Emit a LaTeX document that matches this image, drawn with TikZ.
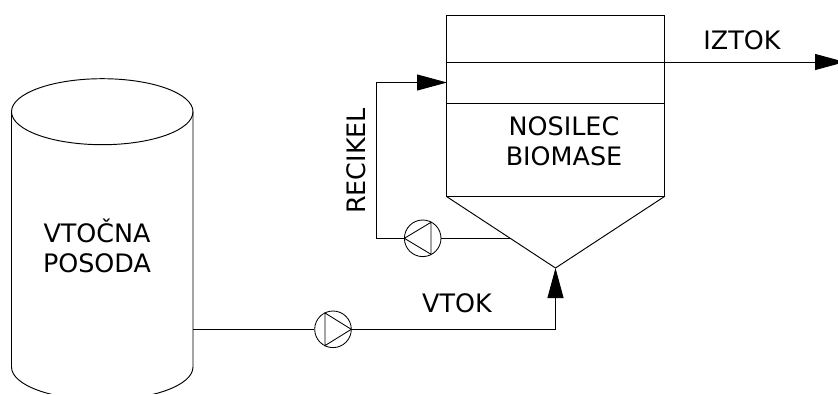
\documentclass[tikz,border=0pt]{standalone}
\usepackage{fontspec}
\setmainfont{DejaVu Sans}
\usetikzlibrary{arrows.meta}
\begin{document}
\begin{tikzpicture}[x=1pt,y=-1pt,
  pipe/.style={line width=0.95pt,line join=miter},
  vessel/.style={line width=0.95pt,line join=miter},
  flow/.style={pipe,-{Triangle[length=30pt,width=16pt,sep=0pt]}},
  pumpc/.style={circle,draw,line width=0.85pt,minimum size=36.6pt,inner sep=0pt,fill=white},
  lbl/.style={font=\fontsize{25.4pt}{30pt}\selectfont,align=center,inner sep=0pt}]
\useasboundingbox (0,0) rectangle (838,394);
\fill[white] (0,0) rectangle (838,394);
% feed tank
\begin{scope}
\clip (0,0) rectangle (838,393);
\draw[vessel] (11.5,111.7) -- (11.5,367) arc[start angle=180,end angle=0,x radius=90.75pt,y radius=-33pt] -- (193,111.7);
\end{scope}
\draw[vessel] (102.25,111.7) ellipse[x radius=90.75pt,y radius=33pt];
% reactor
\draw[vessel] (446.5,15) rectangle (664.5,196.5);
\draw[vessel] (446.5,103) -- (664.5,103);
\draw[vessel] (446.5,196.5) -- (555.5,268) -- (664.5,196.5);
% named points
\coordinate (tankout) at (193,329.3);
\coordinate (apex) at (555.5,268);
\coordinate (feedcorner) at (555.5,329.3);
\coordinate (lev) at (446.5,62);
\coordinate (out) at (845,62);
\coordinate (cone) at (510,238.3);
\coordinate (rc1) at (376,238.3);
\coordinate (rc2) at (376,82.5);
\coordinate (inlet) at (447,82.5);
% pumps
\node[pumpc] (p1) at (333,329.3) {};
\node[pumpc] (p2) at (422.7,238.3) {};
\draw[line width=0.85pt,line join=miter] (325,313) -- (351.3,329.3) -- (325,345.6) -- cycle;
\draw[line width=0.85pt,line join=miter] (431,222.3) -- (404.4,238.3) -- (431,254.3) -- cycle;
% connectors
\draw[pipe] (tankout) -- (p1.west);
\draw[flow] (p1.east) -- (feedcorner) -- (apex);
\draw[flow] (lev) -- (out);
\draw[pipe] (cone) -- (p2.east);
\draw[flow] (p2.west) -- (rc1) -- (rc2) -- (inlet);
% labels
\node[lbl] (t1) at (97,245.5) {VTOČNA\\POSODA};
\node[lbl] (t2) at (564,141) {NOSILEC\\BIOMASE};
\node[lbl] (t3) at (742,40) {IZTOK};
\node[lbl] (t4) at (457,303) {VTOK};
\node[lbl,rotate=90] (t5) at (356,161) {RECIKEL};
\end{tikzpicture}
\end{document}
